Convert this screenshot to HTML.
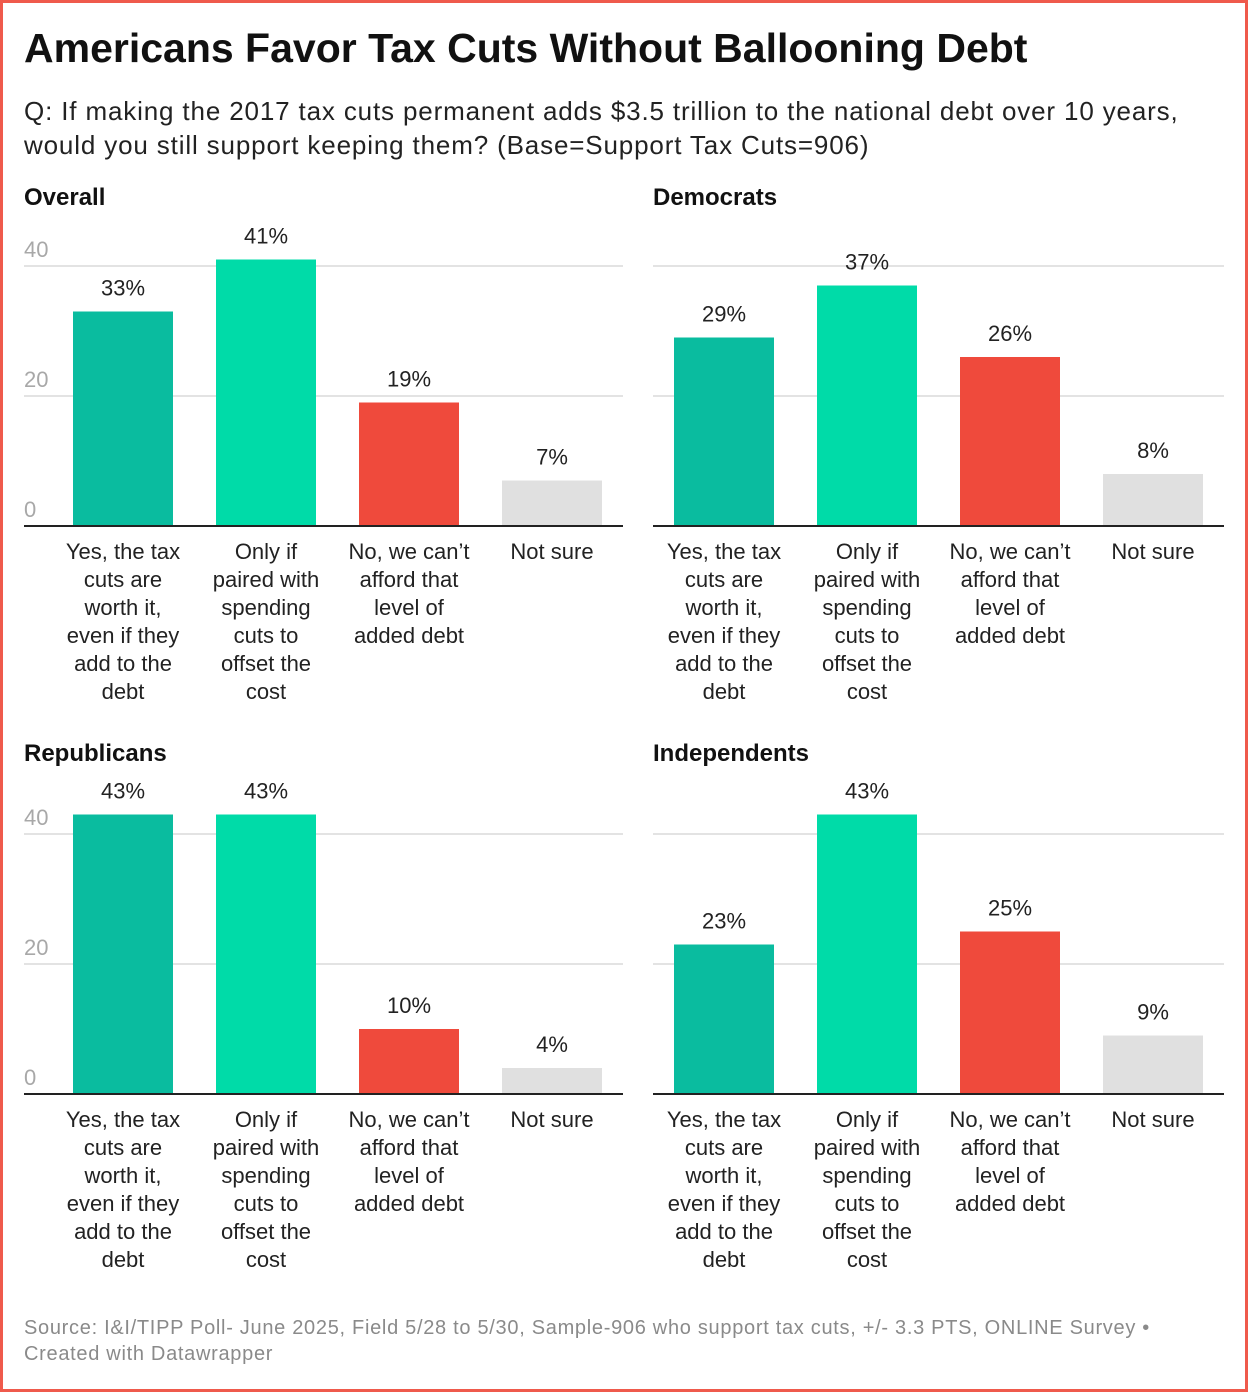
<!DOCTYPE html>
<html><head><meta charset="utf-8"><style>
body{margin:0;background:#fff;}
#wrap{position:relative;width:1242px;height:1386px;border:3px solid #ef5a4c;background:#fff;font-family:"Liberation Sans",sans-serif;overflow:hidden}
.t{position:absolute;white-space:nowrap;}
</style></head><body>
<div id="wrap">
<div class="t" style="left:21px;top:22px;font-size:41px;font-weight:bold;color:#111">Americans Favor Tax Cuts Without Ballooning Debt</div>
<div class="t" style="left:21px;top:91px;font-size:26px;line-height:34px;color:#222;letter-spacing:0.85px">Q: If making the 2017 tax cuts permanent adds $3.5 trillion to the national debt over 10 years,<br>would you still support keeping them? (Base=Support Tax Cuts=906)</div>
<svg id="svg" width="1242" height="1386" style="position:absolute;left:0;top:0"></svg>
<div class="t" style="left:21px;top:1312px;font-size:20px;line-height:26px;color:#8a8a8a;letter-spacing:0.7px">Source: I&amp;I/TIPP Poll- June 2025, Field 5/28 to 5/30, Sample-906 who support tax cuts, +/- 3.3 PTS, ONLINE Survey •<br>Created with Datawrapper</div>
</div>
<script>
const categories=[["Yes, the tax","cuts are","worth it,","even if they","add to the","debt"],["Only if","paired with","spending","cuts to","offset the","cost"],["No, we can’t","afford that","level of","added debt"],["Not sure"]];
const panelTitles=["Overall","Democrats","Republicans","Independents"];
const overall=[33,41,19,7];
const democrats=[29,37,26,8];
const republicans=[43,43,10,4];
const independents=[23,43,25,9];
const yTicks=[0,20,40];
const colors=["#0abc9f","#00dba8","#ef4a3c","#e0e0e0"];
const series=[overall,democrats,republicans,independents];
const svg=document.getElementById('svg');
const NS='http://www.w3.org/2000/svg';
function mk(tag,attrs,txt){const e=document.createElementNS(NS,tag);for(const k in attrs)e.setAttribute(k,attrs[k]);if(txt!==undefined)e.textContent=txt;svg.appendChild(e);return e;}
const panels=[{x0:21,x1:620,base:523,bx:70,ticks:true},{x0:650,x1:1221,base:523,bx:671,ticks:false},{x0:21,x1:620,base:1091,bx:70,ticks:true},{x0:650,x1:1221,base:1091,bx:671,ticks:false}];
const unit=6.5;
panels.forEach((p,pi)=>{
  const y=v=>p.base-v*unit;
  const ti=mk('text',{x:p.x0,y:p.base-321+(pi>=2?-12:0),'font-size':24,'font-weight':'bold',fill:'#111'},panelTitles[pi]);
  
  yTicks.forEach(t=>{
    if(t>0){const g=mk('line',{x1:p.x0,x2:p.x1,y1:y(t),y2:y(t),stroke:'#e3e3e3','stroke-width':2});
    }
    if(p.ticks){const tl=mk('text',{x:p.x0,y:y(t)-9,'font-size':22,fill:'#a8a8a8'},String(t));
    }
  });
  series[pi].forEach((v,i)=>{
    const bx=p.bx+i*143;
    const r=mk('rect',{x:bx,y:y(v),width:100,height:v*unit,fill:colors[i]});
    
    const vl=mk('text',{x:bx+50,y:y(v)-16,'font-size':22,fill:'#222','text-anchor':'middle'},v+'%');
    
    categories[i].forEach((ln,li)=>{
      const c=mk('text',{x:bx+50,y:p.base+33+li*28,'font-size':22,fill:'#222','text-anchor':'middle'},ln);
      
    });
  });
  const b=mk('line',{x1:p.x0,x2:p.x1,y1:p.base,y2:p.base,stroke:'#222','stroke-width':2});
  
});
</script>
</body></html>
